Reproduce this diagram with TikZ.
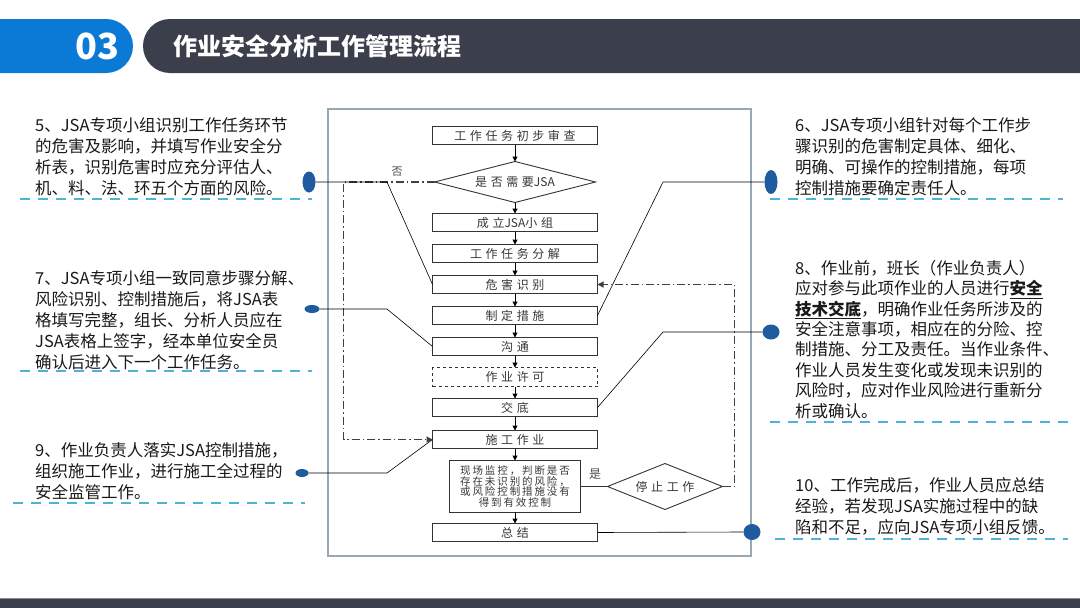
\documentclass[tikz,border=0pt]{standalone}
\usepackage{fontspec}
\setmainfont{Noto Sans CJK SC}
\newfontfamily\flowfont[LetterSpace=30]{Noto Sans CJK SC}
\newfontfamily\flowsmall[LetterSpace=18]{Noto Sans CJK SC}
\newfontfamily\flowplain{Noto Sans CJK SC}
\usetikzlibrary{shapes.geometric,arrows.meta,positioning,calc}
\definecolor{hdblue}{HTML}{0B7AD6}
\definecolor{hddark}{HTML}{3B3E4B}
\definecolor{dotblue}{HTML}{1F5C9E}
\definecolor{sepblue}{HTML}{4FB3D9}
\definecolor{framegray}{HTML}{9AA8B2}
\newcommand{\jsa}{{\flowplain JSA}}

\begin{document}
\begin{tikzpicture}[
    x=1pt, y=-1pt,
    font=\fontsize{16.5}{21}\selectfont,
    flowbox/.style={draw=black!80, line width=0.9pt, minimum width=165pt, minimum height=18pt, inner sep=0pt, outer sep=0pt, text=black!78, font=\flowfont\fontsize{12}{12}\selectfont},
    permitbox/.style={flowbox, dashed},
    judge/.style={diamond, draw=black!80, line width=0.9pt, inner sep=0pt, outer sep=0pt, text=black!78, font=\flowfont\fontsize{12}{12}\selectfont},
    flow/.style={-{Triangle[length=5pt,width=5pt]}, line width=1pt, black},
    loopline/.style={dash pattern=on 8pt off 3pt on 1.5pt off 3pt, line width=1.3pt, black!75},
    callout/.style={line width=0.6pt, black},
    bigdot/.style={ellipse, fill=dotblue, inner sep=0pt},
    note/.style={anchor=north west, inner sep=0pt, align=left, text=black!90},
    sepline/.style={sepblue, line width=2pt, dash pattern=on 10pt off 8pt}
]
\useasboundingbox (0,0) rectangle (1080,608);
\fill[white] (0,0) rectangle (1080,608);

% header
\fill[hdblue, rounded corners=27pt] (-40,19) rectangle (133,73);
\fill[hddark, rounded corners=27pt] (143,19) rectangle (1110,73);
\node[text=white, font=\fontsize{36}{36}\selectfont\bfseries] (num) at (97,46) {03};
\node[text=white, anchor=west, font=\fontsize{24}{24}\selectfont\bfseries] (title) at (170,46) {作业安全分析工作管理流程};

% footer
\fill[hddark] (0,599) rectangle (1080,608);
\draw[black!45, line width=0.8pt] (0,598.5) -- (1080,598.5);

% flowchart frame
\draw[framegray, line width=1.2pt] (328,109) rectangle (751,556);

\node[flowbox] (review) at (515,135.5) {工作任务初步审查};
\node[judge, minimum width=161pt, minimum height=41pt, aspect=3.9, below=17pt of review] (needjsa) {是否需要\jsa};
\node[flowbox, below=11pt of needjsa] (team) {成立\jsa 小组};
\node[flowbox, below=13pt of team] (split) {工作任务分解};
\node[flowbox, below=13pt of split] (hazard) {危害识别};
\node[flowbox, below=13pt of hazard] (measure) {制定措施};
\node[flowbox, below=13pt of measure] (talk) {沟通};
\node[permitbox, minimum height=19pt, below=12pt of talk] (permit) {作业许可};
\node[flowbox, below=12pt of permit] (brief) {交底};
\node[flowbox, below=14pt of brief] (work) {施工作业};
\node[flowbox, minimum width=131pt, minimum height=52pt, align=center, font=\flowsmall\fontsize{10.5}{10.5}\selectfont, below=12pt of work] (monitor) {现场监控，判断是否\\存在未识别的风险，\\或风险控制措施没有\\得到有效控制};
\node[flowbox, below=11pt of monitor] (summary) {总结};
\node[judge, minimum width=115pt, minimum height=46pt, aspect=2.5, right=27pt of monitor] (stop) {停止工作};

\foreach \a/\b in {review/needjsa, needjsa/team, team/split, split/hazard, hazard/measure, measure/talk, talk/permit, permit/brief, brief/work, work/monitor, monitor/summary}
  \draw[flow] (\a.south) -- (\b.north);
\draw[line width=0.9pt, black!80] (monitor.east) -- (stop.west);

\draw[loopline, -{Triangle[length=6pt,width=6pt]}] (stop.east) -- ++(12,0) |- (hazard.east);
\draw[loopline, -{Triangle[length=6pt,width=6pt]}] (needjsa.west) -- ++(-91,0) |- (work.west);
\node[text=black!70, font=\fontsize{11}{11}\selectfont] (nolabel) at (397,172) {否};
\node[text=black!70, font=\fontsize{12}{12}\selectfont] (yeslabel) at (595,474) {是};

% notes on the left
\node[note] (note5) at (35,117) {5、JSA专项小组识别工作任务环节\\的危害及影响，并填写作业安全分\\析表，识别危害时应充分评估人、\\机、料、法、环五个方面的风险。};
\node[note] (note7) at (35,270) {7、JSA专项小组一致同意步骤分解、\\风险识别、控制措施后，将JSA表\\格填写完整，组长、分析人员应在\\JSA表格上签字，经本单位安全员\\确认后进入下一个工作任务。};
\node[note] (note9) at (35,442) {9、作业负责人落实JSA控制措施，\\组织施工作业，进行施工全过程的\\安全监管工作。};

% notes on the right
\node[note] (note6) at (795,117) {6、JSA专项小组针对每个工作步\\骤识别的危害制定具体、细化、\\明确、可操作的控制措施，每项\\控制措施要确定责任人。};
\node[note, font=\fontsize{16.5}{20.4}\selectfont] (note8) at (795,260) {8、作业前，班长（作业负责人）\\应对参与此项作业的人员进行\textbf{\underline{安全}}\\\textbf{\underline{技术交底}}，明确作业任务所涉及的\\安全注意事项，相应在的分险、控\\制措施、分工及责任。当作业条件、\\作业人员发生变化或发现未识别的\\风险时，应对作业风险进行重新分\\析或确认。};
\node[note] (note10) at (795,477) {10、工作完成后，作业人员应总结\\经验，若发现JSA实施过程中的缺\\陷和不足，应向JSA专项小组反馈。};

% dashed separators
\draw[sepline] (20,199) -- (312,199);
\draw[sepline] (20,371) -- (312,371);
\draw[sepline] (13,503) -- (305,503);
\draw[sepline] (770,199) -- (1063,199);
\draw[sepline] (770,422) -- (1068,422);
\draw[sepline] (775,539) -- (1068,539);

% callout dots and lines
\node[bigdot, minimum width=13pt, minimum height=21pt] (dot5) at (309,182) {};
\node[bigdot, minimum width=15pt, minimum height=8pt] (dot7) at (312,309) {};
\node[bigdot, minimum width=13pt, minimum height=8pt] (dot9) at (302,473) {};
\node[bigdot, minimum width=13pt, minimum height=24pt] (dot6) at (771,182) {};
\node[bigdot, minimum width=17pt, minimum height=15pt] (dot8) at (771,332) {};
\node[bigdot, minimum width=17pt, minimum height=16pt] (dot10) at (752,532) {};

\coordinate (bend5) at (387,182);
\coordinate (bend7) at (387,309);
\coordinate (bend9) at (387,473);
\coordinate (bend6) at (663,182);
\coordinate (bend8) at (663,332);

\draw[callout] (dot5.east) -- (bend5) -- (hazard.west);
\draw[callout] (dot7.east) -- (bend7) -- (talk.west);
\draw[callout] (dot9.east) -- (bend9) -- (work.west);
\draw[callout] (dot6.west) -- (bend6) -- (measure.east);
\draw[callout] (dot8.west) -- (bend8) -- (brief.east);
\draw[callout] (summary.east) -- (dot10.west);
\end{tikzpicture}
\end{document}
